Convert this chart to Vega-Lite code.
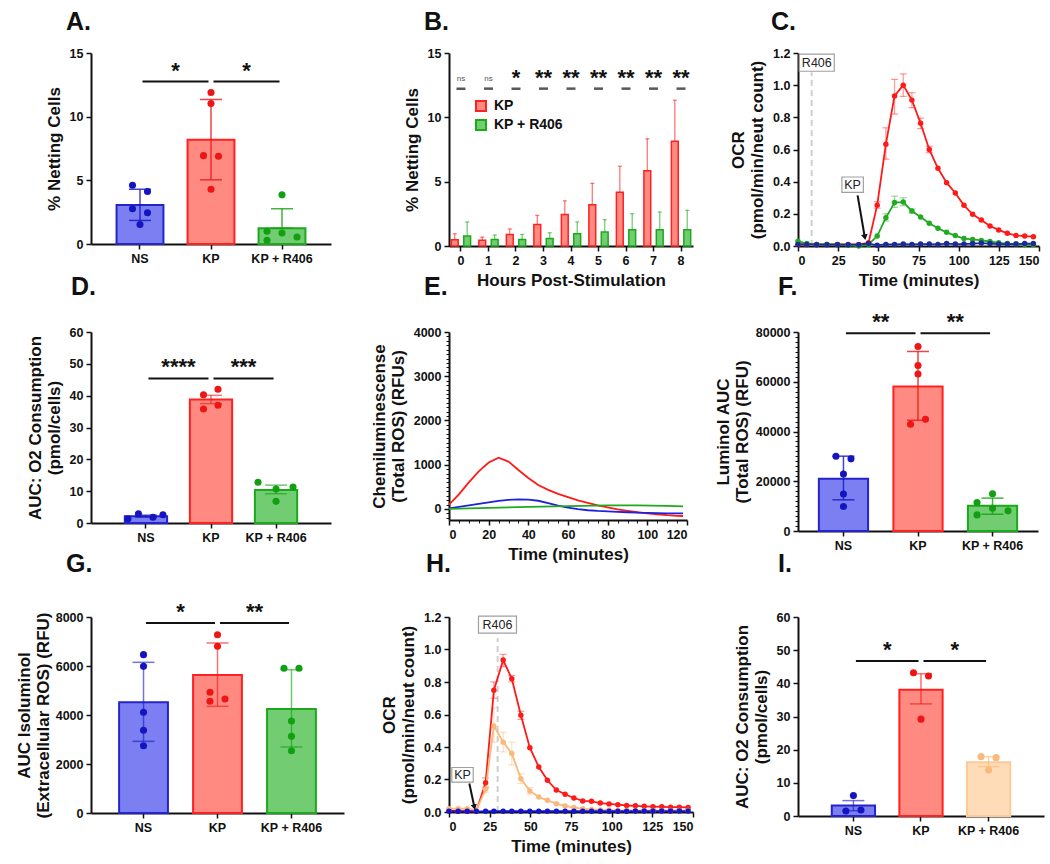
{
"$schema": "https://vega.github.io/schema/vega-lite/v6.json",
"background": "white",
"padding": {"left": 15, "top": 10, "right": 2, "bottom": 2},
"columns": 3,
"bounds": "flush",
"spacing": {"row": 86, "column": 105},
"resolve": {"scale": {"color": "independent", "fill": "independent", "stroke": "independent", "xOffset": "independent", "x": "independent", "y": "independent"}},
"datasets": {
"A_bar": [{"g":"NS","m":3.06,"lo":1.85,"hi":4.3},{"g":"KP","m":8.19,"lo":5.04,"hi":11.35},{"g":"KP + R406","m":1.24,"lo":1.24,"hi":2.77}],
"A_pts": [{"g":"NS","v":4.62,"p":"l"},{"g":"NS","v":4.12,"p":"r"},{"g":"NS","v":2.77,"p":"l"},{"g":"NS","v":2.46,"p":"r"},{"g":"NS","v":1.53,"p":"c"},{"g":"KP","v":11.9,"p":"c"},{"g":"KP","v":11.04,"p":"c"},{"g":"KP","v":6.94,"p":"l"},{"g":"KP","v":6.89,"p":"r"},{"g":"KP","v":4.3,"p":"c"},{"g":"KP + R406","v":3.86,"p":"c"},{"g":"KP + R406","v":1.0,"p":"ll"},{"g":"KP + R406","v":0.87,"p":"c"},{"g":"KP + R406","v":0.29,"p":"ll"},{"g":"KP + R406","v":0.55,"p":"rr"}],
"A_sig": [{"from":"NS","to":"KP","y":12.76,"label":"*"},{"from":"KP","to":"KP + R406","y":12.76,"label":"*"}],
"D_bar": [{"g":"NS","m":2.15,"lo":1.8,"hi":2.5},{"g":"KP","m":38.8,"lo":37.5,"hi":40.1},{"g":"KP +  R406","m":10.4,"lo":9.2,"hi":11.9}],
"D_pts": [{"g":"NS","v":1.3,"p":"ll"},{"g":"NS","v":2.9,"p":"l"},{"g":"NS","v":1.8,"p":"r"},{"g":"NS","v":2.6,"p":"rr"},{"g":"KP","v":40.3,"p":"l"},{"g":"KP","v":42.0,"p":"r"},{"g":"KP","v":35.8,"p":"l"},{"g":"KP","v":37.0,"p":"r"},{"g":"KP +  R406","v":12.8,"p":"ll"},{"g":"KP +  R406","v":10.7,"p":"c"},{"g":"KP +  R406","v":6.8,"p":"c"},{"g":"KP +  R406","v":11.3,"p":"rr"}],
"D_sig": [{"from":"NS","to":"KP","y":45.4,"label":"****"},{"from":"KP","to":"KP +  R406","y":45.4,"label":"***"}],
"F_bar": [{"g":"NS","m":21040,"lo":12540,"hi":30080},{"g":"KP","m":58140,"lo":44510,"hi":72170},{"g":"KP + R406","m":10117,"lo":6745,"hi":13220}],
"F_pts": [{"g":"NS","v":30080,"p":"l"},{"g":"NS","v":29000,"p":"r"},{"g":"NS","v":22930,"p":"c"},{"g":"NS","v":14840,"p":"c"},{"g":"NS","v":9850,"p":"c"},{"g":"KP","v":74200,"p":"c"},{"g":"KP","v":66500,"p":"c"},{"g":"KP","v":63130,"p":"c"},{"g":"KP","v":42900,"p":"l"},{"g":"KP","v":44920,"p":"r"},{"g":"KP + R406","v":14970,"p":"c"},{"g":"KP + R406","v":11470,"p":"ll"},{"g":"KP + R406","v":9180,"p":"c"},{"g":"KP + R406","v":8100,"p":"rr"},{"g":"KP + R406","v":6475,"p":"ll"}],
"F_sig": [{"from":"NS","to":"KP","y":79480,"label":"**"},{"from":"KP","to":"KP + R406","y":79480,"label":"**"}],
"G_bar": [{"g":"NS","m":4517,"lo":2925,"hi":6150},{"g":"KP","m":5633,"lo":4354,"hi":6939},{"g":"KP + R406","m":4245,"lo":2694,"hi":5850}],
"G_pts": [{"g":"NS","v":6463,"p":"c"},{"g":"NS","v":5986,"p":"c"},{"g":"NS","v":4109,"p":"c"},{"g":"NS","v":3374,"p":"c"},{"g":"NS","v":2748,"p":"c"},{"g":"KP","v":7279,"p":"c"},{"g":"KP","v":6803,"p":"c"},{"g":"KP","v":4925,"p":"l"},{"g":"KP","v":4558,"p":"l"},{"g":"KP","v":4653,"p":"r"},{"g":"KP + R406","v":5905,"p":"l"},{"g":"KP + R406","v":5905,"p":"r"},{"g":"KP + R406","v":3755,"p":"c"},{"g":"KP + R406","v":3129,"p":"c"},{"g":"KP + R406","v":2544,"p":"c"}],
"G_sig": [{"from":"NS","to":"KP","y":7755,"label":"*"},{"from":"KP","to":"KP + R406","y":7755,"label":"**"}],
"I_bar": [{"g":"NS","m":3.13,"lo":1.6,"hi":4.64},{"g":"KP","m":38.1,"lo":33.8,"hi":42.9},{"g":"KP +  R406","m":16.2,"lo":14.9,"hi":17.9}],
"I_pts": [{"g":"NS","v":6.15,"p":"c"},{"g":"NS","v":1.51,"p":"l"},{"g":"NS","v":1.8,"p":"r"},{"g":"KP","v":43.2,"p":"l"},{"g":"KP","v":42.2,"p":"r"},{"g":"KP","v":29.2,"p":"c"},{"g":"KP +  R406","v":17.9,"p":"l"},{"g":"KP +  R406","v":17.6,"p":"r"},{"g":"KP +  R406","v":13.9,"p":"c"}],
"I_sig": [{"from":"NS","to":"KP","y":46.7,"label":"*"},{"from":"KP","to":"KP +  R406","y":46.7,"label":"*"}],
"B_bar": [{"h":0,"s":"KP","m":0.49,"hi":0.95},{"h":1,"s":"KP","m":0.44,"hi":0.69},{"h":2,"s":"KP","m":0.9,"hi":1.33},{"h":3,"s":"KP","m":1.67,"hi":2.38},{"h":4,"s":"KP","m":2.44,"hi":3.51},{"h":5,"s":"KP","m":3.21,"hi":4.87},{"h":6,"s":"KP","m":4.18,"hi":6.2},{"h":7,"s":"KP","m":5.85,"hi":8.33},{"h":8,"s":"KP","m":8.15,"hi":11.33},
{"h":0,"s":"KP +  R406","m":0.77,"hi":1.87},{"h":1,"s":"KP +  R406","m":0.51,"hi":0.85},{"h":2,"s":"KP +  R406","m":0.51,"hi":0.9},{"h":3,"s":"KP +  R406","m":0.59,"hi":1.03},{"h":4,"s":"KP +  R406","m":0.95,"hi":1.87},{"h":5,"s":"KP +  R406","m":1.08,"hi":2.05},{"h":6,"s":"KP +  R406","m":1.26,"hi":2.51},{"h":7,"s":"KP +  R406","m":1.26,"hi":2.64},{"h":8,"s":"KP +  R406","m":1.26,"hi":2.77}],
"B_sig": [{"h":0,"label":"ns"},{"h":1,"label":"ns"},{"h":2,"label":"*"},{"h":3,"label":"**"},{"h":4,"label":"**"},{"h":5,"label":"**"},{"h":6,"label":"**"},{"h":7,"label":"**"},{"h":8,"label":"**"}],
"C_ts": [
{"s":"KP","t":0,"v":0.01},{"s":"KP","t":5.5,"v":0.01},{"s":"KP","t":11.6,"v":0.01},{"s":"KP","t":18,"v":0.01},{"s":"KP","t":24.6,"v":0.01},{"s":"KP","t":31.2,"v":0.01},{"s":"KP","t":37.8,"v":0.01},{"s":"KP","t":43.9,"v":0.02},{"s":"KP","t":49.3,"v":0.254},{"s":"KP","t":54.7,"v":0.633},{"s":"KP","t":60.1,"v":0.933},{"s":"KP","t":65.5,"v":1.0},{"s":"KP","t":70.9,"v":0.907},{"s":"KP","t":76.3,"v":0.763},{"s":"KP","t":81.7,"v":0.6},{"s":"KP","t":87.1,"v":0.483},{"s":"KP","t":92.5,"v":0.394},{"s":"KP","t":97.9,"v":0.33},{"s":"KP","t":103.3,"v":0.253},{"s":"KP","t":108.7,"v":0.197},{"s":"KP","t":114.1,"v":0.162},{"s":"KP","t":119.5,"v":0.124},{"s":"KP","t":124.9,"v":0.1},{"s":"KP","t":130.3,"v":0.079},{"s":"KP","t":135.7,"v":0.066},{"s":"KP","t":141.1,"v":0.062},{"s":"KP","t":146.5,"v":0.058},
{"s":"KP + R406","t":0,"v":0.03},{"s":"KP + R406","t":5.5,"v":0.015},{"s":"KP + R406","t":11.6,"v":0.01},{"s":"KP + R406","t":18,"v":0.01},{"s":"KP + R406","t":24.6,"v":0.01},{"s":"KP + R406","t":31.2,"v":0.005},{"s":"KP + R406","t":37.8,"v":0.0},{"s":"KP + R406","t":43.9,"v":0.01},{"s":"KP + R406","t":49.3,"v":0.062},{"s":"KP + R406","t":54.7,"v":0.176},{"s":"KP + R406","t":60.1,"v":0.27},{"s":"KP + R406","t":65.5,"v":0.273},{"s":"KP + R406","t":70.9,"v":0.218},{"s":"KP + R406","t":76.3,"v":0.18},{"s":"KP + R406","t":81.7,"v":0.141},{"s":"KP + R406","t":87.1,"v":0.11},{"s":"KP + R406","t":92.5,"v":0.085},{"s":"KP + R406","t":97.9,"v":0.065},{"s":"KP + R406","t":103.3,"v":0.046},{"s":"KP + R406","t":108.7,"v":0.041},{"s":"KP + R406","t":114.1,"v":0.035},{"s":"KP + R406","t":119.5,"v":0.028},{"s":"KP + R406","t":124.9,"v":0.02},{"s":"KP + R406","t":130.3,"v":0.015},{"s":"KP + R406","t":135.7,"v":0.012},{"s":"KP + R406","t":141.1,"v":0.01},{"s":"KP + R406","t":146.5,"v":0.01},
{"s":"NS","t":0,"v":0.01},{"s":"NS","t":5.5,"v":0.01},{"s":"NS","t":11.6,"v":0.008},{"s":"NS","t":18,"v":0.008},{"s":"NS","t":24.6,"v":0.008},{"s":"NS","t":31.2,"v":0.008},{"s":"NS","t":37.8,"v":0.008},{"s":"NS","t":43.9,"v":0.015},{"s":"NS","t":49.3,"v":0.005},{"s":"NS","t":54.7,"v":0.01},{"s":"NS","t":60.1,"v":0.01},{"s":"NS","t":65.5,"v":0.012},{"s":"NS","t":70.9,"v":0.01},{"s":"NS","t":76.3,"v":0.012},{"s":"NS","t":81.7,"v":0.012},{"s":"NS","t":87.1,"v":0.01},{"s":"NS","t":92.5,"v":0.015},{"s":"NS","t":97.9,"v":0.012},{"s":"NS","t":103.3,"v":0.012},{"s":"NS","t":108.7,"v":0.015},{"s":"NS","t":114.1,"v":0.018},{"s":"NS","t":119.5,"v":0.015},{"s":"NS","t":124.9,"v":0.012},{"s":"NS","t":130.3,"v":0.012},{"s":"NS","t":135.7,"v":0.012},{"s":"NS","t":141.1,"v":0.015},{"s":"NS","t":146.5,"v":0.015}],
"C_err": [{"s":"KP","t":49.3,"lo":0.235,"hi":0.275},{"s":"KP","t":54.7,"lo":0.54,"hi":0.735},{"s":"KP","t":60.1,"lo":0.82,"hi":1.036},{"s":"KP","t":65.5,"lo":0.93,"hi":1.07},{"s":"KP","t":70.9,"lo":0.86,"hi":0.953},{"s":"KP","t":76.3,"lo":0.73,"hi":0.795},{"s":"KP","t":81.7,"lo":0.58,"hi":0.62},{"s":"KP + R406","t":54.7,"lo":0.155,"hi":0.2},{"s":"KP + R406","t":60.1,"lo":0.24,"hi":0.31},{"s":"KP + R406","t":65.5,"lo":0.25,"hi":0.3},{"s":"KP + R406","t":70.9,"lo":0.205,"hi":0.23}],
"H_ts": [
{"s":"KP","t":0,"v":0.01},{"s":"KP","t":5.6,"v":0.005},{"s":"KP","t":11.2,"v":0.005},{"s":"KP","t":16.8,"v":0.005},{"s":"KP","t":22.5,"v":0.18},{"s":"KP","t":27.6,"v":0.75},{"s":"KP","t":33.3,"v":0.935},{"s":"KP","t":38.6,"v":0.82},{"s":"KP","t":44.2,"v":0.595},{"s":"KP","t":49.7,"v":0.396},{"s":"KP","t":55.2,"v":0.277},{"s":"KP","t":60.5,"v":0.195},{"s":"KP","t":66,"v":0.135},{"s":"KP","t":71.4,"v":0.109},{"s":"KP","t":76.8,"v":0.086},{"s":"KP","t":82.2,"v":0.068},{"s":"KP","t":87.6,"v":0.066},{"s":"KP","t":93,"v":0.055},{"s":"KP","t":98.4,"v":0.05},{"s":"KP","t":103.8,"v":0.045},{"s":"KP","t":109.2,"v":0.04},{"s":"KP","t":114.6,"v":0.038},{"s":"KP","t":120,"v":0.035},{"s":"KP","t":125.4,"v":0.033},{"s":"KP","t":130.8,"v":0.032},{"s":"KP","t":136.2,"v":0.03},{"s":"KP","t":141.6,"v":0.03},{"s":"KP","t":147,"v":0.028},
{"s":"KP + R406","t":0,"v":0.02},{"s":"KP + R406","t":5.6,"v":0.02},{"s":"KP + R406","t":11.2,"v":0.02},{"s":"KP + R406","t":16.8,"v":0.01},{"s":"KP + R406","t":22.5,"v":0.14},{"s":"KP + R406","t":27.6,"v":0.53},{"s":"KP + R406","t":33.3,"v":0.43},{"s":"KP + R406","t":38.6,"v":0.36},{"s":"KP + R406","t":44.2,"v":0.205},{"s":"KP + R406","t":49.7,"v":0.13},{"s":"KP + R406","t":55.2,"v":0.092},{"s":"KP + R406","t":60.5,"v":0.072},{"s":"KP + R406","t":66,"v":0.051},{"s":"KP + R406","t":71.4,"v":0.037},{"s":"KP + R406","t":76.8,"v":0.027},{"s":"KP + R406","t":82.2,"v":0.02},{"s":"KP + R406","t":87.6,"v":0.016},{"s":"KP + R406","t":93,"v":0.013},{"s":"KP + R406","t":98.4,"v":0.012},{"s":"KP + R406","t":103.8,"v":0.01},{"s":"KP + R406","t":109.2,"v":0.01},{"s":"KP + R406","t":114.6,"v":0.01},{"s":"KP + R406","t":120,"v":0.01},{"s":"KP + R406","t":125.4,"v":0.01},{"s":"KP + R406","t":130.8,"v":0.01},{"s":"KP + R406","t":136.2,"v":0.01},{"s":"KP + R406","t":141.6,"v":0.01},{"s":"KP + R406","t":147,"v":0.01},
{"s":"NS","t":0,"v":0.004},{"s":"NS","t":5.6,"v":0.004},{"s":"NS","t":11.2,"v":0.004},{"s":"NS","t":16.8,"v":0.004},{"s":"NS","t":22.5,"v":0.004},{"s":"NS","t":27.6,"v":0.005},{"s":"NS","t":33.3,"v":0.005},{"s":"NS","t":38.6,"v":0.005},{"s":"NS","t":44.2,"v":0.005},{"s":"NS","t":49.7,"v":0.005},{"s":"NS","t":55.2,"v":0.005},{"s":"NS","t":60.5,"v":0.005},{"s":"NS","t":66,"v":0.005},{"s":"NS","t":71.4,"v":0.005},{"s":"NS","t":76.8,"v":0.005},{"s":"NS","t":82.2,"v":0.005},{"s":"NS","t":87.6,"v":0.005},{"s":"NS","t":93,"v":0.005},{"s":"NS","t":98.4,"v":0.005},{"s":"NS","t":103.8,"v":0.005},{"s":"NS","t":109.2,"v":0.005},{"s":"NS","t":114.6,"v":0.006},{"s":"NS","t":120,"v":0.006},{"s":"NS","t":125.4,"v":0.006},{"s":"NS","t":130.8,"v":0.006},{"s":"NS","t":136.2,"v":0.006},{"s":"NS","t":141.6,"v":0.006},{"s":"NS","t":147,"v":0.006}],
"H_err": [{"s":"KP","t":22.5,"lo":0.15,"hi":0.21},{"s":"KP","t":27.6,"lo":0.7,"hi":0.8},{"s":"KP","t":33.3,"lo":0.895,"hi":0.97},{"s":"KP","t":38.6,"lo":0.8,"hi":0.84},{"s":"KP","t":44.2,"lo":0.57,"hi":0.62},{"s":"KP + R406","t":22.5,"lo":0.12,"hi":0.16},{"s":"KP + R406","t":27.6,"lo":0.43,"hi":0.64},{"s":"KP + R406","t":33.3,"lo":0.37,"hi":0.49},{"s":"KP + R406","t":38.6,"lo":0.29,"hi":0.43},{"s":"KP + R406","t":44.2,"lo":0.175,"hi":0.235},{"s":"KP + R406","t":49.7,"lo":0.11,"hi":0.15}],
"E_ts": [
{"s":"KP","t":0,"v":100},{"s":"KP","t":5,"v":330},{"s":"KP","t":10,"v":600},{"s":"KP","t":15,"v":850},{"s":"KP","t":20,"v":1050},{"s":"KP","t":25,"v":1160},{"s":"KP","t":30,"v":1070},{"s":"KP","t":35,"v":880},{"s":"KP","t":40,"v":700},{"s":"KP","t":45,"v":540},{"s":"KP","t":50,"v":430},{"s":"KP","t":55,"v":340},{"s":"KP","t":60,"v":265},{"s":"KP","t":65,"v":195},{"s":"KP","t":70,"v":135},{"s":"KP","t":75,"v":80},{"s":"KP","t":80,"v":35},{"s":"KP","t":85,"v":-10},{"s":"KP","t":90,"v":-45},{"s":"KP","t":95,"v":-75},{"s":"KP","t":100,"v":-100},{"s":"KP","t":105,"v":-120},{"s":"KP","t":110,"v":-140},{"s":"KP","t":115,"v":-155},{"s":"KP","t":118,"v":-160},
{"s":"NS","t":0,"v":15},{"s":"NS","t":5,"v":45},{"s":"NS","t":10,"v":80},{"s":"NS","t":15,"v":115},{"s":"NS","t":20,"v":150},{"s":"NS","t":25,"v":180},{"s":"NS","t":30,"v":205},{"s":"NS","t":35,"v":215},{"s":"NS","t":40,"v":212},{"s":"NS","t":45,"v":185},{"s":"NS","t":50,"v":130},{"s":"NS","t":55,"v":75},{"s":"NS","t":60,"v":30},{"s":"NS","t":65,"v":-5},{"s":"NS","t":70,"v":-30},{"s":"NS","t":75,"v":-45},{"s":"NS","t":80,"v":-55},{"s":"NS","t":85,"v":-65},{"s":"NS","t":90,"v":-75},{"s":"NS","t":95,"v":-85},{"s":"NS","t":100,"v":-90},{"s":"NS","t":110,"v":-100},{"s":"NS","t":118,"v":-100},
{"s":"KP + R406","t":0,"v":0},{"s":"KP + R406","t":20,"v":25},{"s":"KP + R406","t":40,"v":45},{"s":"KP + R406","t":60,"v":65},{"s":"KP + R406","t":80,"v":80},{"s":"KP + R406","t":95,"v":80},{"s":"KP + R406","t":110,"v":70},{"s":"KP + R406","t":118,"v":60}]
},
"concat": [
{
"title": {"text": "A.", "dx": -25},
"width": 240, "height": 191,
"layer": [
{"data": {"name": "A_bar"}, "mark": {"type": "bar", "strokeWidth": 2},
 "encoding": {
  "x": {"field": "g", "type": "nominal", "scale": {"domain": ["NS","KP","KP + R406"], "paddingInner": 0.34, "paddingOuter": 0.36}, "axis": {"title": null, "labelAngle": 0}},
  "y": {"field": "m", "type": "quantitative", "scale": {"domain": [0, 15], "nice": false}, "axis": {"title": "% Netting Cells", "values": [0,5,10,15], "tickCount": 4}},
  "fill": {"field": "g", "type": "nominal", "scale": {"domain": ["NS","KP","KP + R406"], "range": ["#7b7ff2","#ff8a82","#72cc72"]}, "legend": null},
  "stroke": {"field": "g", "type": "nominal", "scale": {"domain": ["NS","KP","KP + R406"], "range": ["#2424cc","#ff2020","#1aaa1a"]}, "legend": null}}},
{"data": {"name": "A_bar"}, "mark": {"type": "rule", "strokeWidth": 1.5, "opacity": 0.8},
 "encoding": {"x": {"field": "g", "type": "nominal"}, "y": {"field": "lo", "type": "quantitative"}, "y2": {"field": "hi"},
  "color": {"field": "g", "type": "nominal", "scale": {"domain": ["NS","KP","KP + R406"], "range": ["#1515c0","#ee1515","#12a012"]}, "legend": null}}},
{"data": {"name": "A_bar"}, "mark": {"type": "tick", "thickness": 1.5, "size": 22, "opacity": 0.8},
 "encoding": {"x": {"field": "g", "type": "nominal"}, "y": {"field": "hi", "type": "quantitative"}, "color": {"field": "g", "type": "nominal", "legend": null}}},
{"data": {"name": "A_bar"}, "mark": {"type": "tick", "thickness": 1.5, "size": 22, "opacity": 0.8},
 "encoding": {"x": {"field": "g", "type": "nominal"}, "y": {"field": "lo", "type": "quantitative"}, "color": {"field": "g", "type": "nominal", "legend": null}}},
{"data": {"name": "A_pts"}, "mark": {"type": "circle", "size": 50, "opacity": 1, "xOffset": {"expr": "datum.p == 'll' ? -15 : datum.p == 'l' ? -7.5 : datum.p == 'r' ? 7.5 : datum.p == 'rr' ? 15 : 0"}},
 "encoding": {"x": {"field": "g", "type": "nominal"}, "y": {"field": "v", "type": "quantitative"}, "color": {"field": "g", "type": "nominal", "legend": null}}},
{"data": {"name": "A_sig"}, "mark": {"type": "rule", "strokeWidth": 2, "color": "#111", "xOffset": 2.5, "x2Offset": -2.5},
 "encoding": {"x": {"field": "from", "type": "nominal"}, "x2": {"field": "to"}, "y": {"field": "y", "type": "quantitative"}}},
{"data": {"name": "A_sig"}, "mark": {"type": "text", "fontSize": 22, "fontWeight": "bold", "dx": 35.5, "dy": -4, "baseline": "alphabetic", "color": "#111"},
 "encoding": {"x": {"field": "from", "type": "nominal"}, "y": {"field": "y", "type": "quantitative"}, "text": {"field": "label"}}}
]
},
{
"title": {"text": "B.", "dx": -25},
"width": 244, "height": 193,
"layer": [
{"data": {"name": "B_bar"}, "mark": {"type": "bar", "strokeWidth": 1.5},
 "encoding": {
  "x": {"field": "h", "type": "ordinal", "scale": {"paddingInner": 0.3, "paddingOuter": 0.085}, "axis": {"title": "Hours Post-Stimulation", "labelAngle": 0}},
  "xOffset": {"field": "s", "type": "nominal", "scale": {"domain": ["KP","KP +  R406"], "paddingInner": 0.45}},
  "y": {"field": "m", "type": "quantitative", "scale": {"domain": [0, 15], "nice": false}, "axis": {"title": "% Netting Cells", "values": [0,5,10,15], "tickCount": 4}},
  "fill": {"field": "s", "type": "nominal", "scale": {"domain": ["KP","KP +  R406"], "range": ["#ff8a82","#72cc72"]}, "legend": {"orient": "none", "legendX": 25, "legendY": 46, "title": null, "symbolType": "square", "symbolSize": 100, "symbolStrokeWidth": 2, "labelFontSize": 14, "labelFontWeight": "bold", "labelColor": "#111", "rowPadding": 1, "labelOffset": 6}},
  "stroke": {"field": "s", "type": "nominal", "scale": {"domain": ["KP","KP +  R406"], "range": ["#ff2020","#1aaa1a"]}, "legend": {"orient": "none", "legendX": 25, "legendY": 46, "title": null, "symbolType": "square", "symbolSize": 100, "symbolStrokeWidth": 2, "labelFontSize": 14, "labelFontWeight": "bold", "labelColor": "#111", "rowPadding": 1, "labelOffset": 6}}}},
{"data": {"name": "B_bar"}, "mark": {"type": "rule", "strokeWidth": 1.3, "opacity": 0.6},
 "encoding": {"x": {"field": "h", "type": "ordinal"}, "xOffset": {"field": "s", "type": "nominal"}, "y": {"field": "m", "type": "quantitative"}, "y2": {"field": "hi"},
  "color": {"field": "s", "type": "nominal", "scale": {"domain": ["KP","KP +  R406"], "range": ["#ff2020","#1aaa1a"]}, "legend": null}}},
{"data": {"name": "B_bar"}, "mark": {"type": "tick", "thickness": 1.3, "size": 4, "opacity": 0.6},
 "encoding": {"x": {"field": "h", "type": "ordinal"}, "xOffset": {"field": "s", "type": "nominal"}, "y": {"field": "hi", "type": "quantitative"}, "color": {"field": "s", "type": "nominal", "legend": null}}},
{"data": {"name": "B_sig"}, "mark": {"type": "tick", "thickness": 2.5, "size": 9, "color": "#111"},
 "encoding": {"x": {"field": "h", "type": "ordinal"}, "y": {"datum": 12.23}}},
{"data": {"name": "B_sig"}, "transform": [{"filter": "datum.label != 'ns'"}], "mark": {"type": "text", "fontSize": 22, "fontWeight": "bold", "dy": -4, "baseline": "alphabetic", "color": "#111"},
 "encoding": {"x": {"field": "h", "type": "ordinal"}, "y": {"datum": 12.23}, "text": {"field": "label"}}},
{"data": {"name": "B_sig"}, "transform": [{"filter": "datum.label == 'ns'"}], "mark": {"type": "text", "fontSize": 8, "dy": -10, "baseline": "middle", "color": "#555"},
 "encoding": {"x": {"field": "h", "type": "ordinal"}, "y": {"datum": 12.23}, "text": {"field": "label"}}}
]
},
{
"title": {"text": "C.", "dx": -27},
"width": 241, "height": 193,
"layer": [
{"data": {"values": [{}]}, "mark": {"type": "rule", "strokeDash": [6,4], "strokeWidth": 2, "color": "#cfcfcf"},
 "encoding": {"x": {"datum": 8.5}, "y": {"datum": 0}, "y2": {"datum": 1.08}}},
{"data": {"name": "C_err"}, "mark": {"type": "rule", "strokeWidth": 1.2, "opacity": 0.45},
 "encoding": {"x": {"field": "t", "type": "quantitative"}, "y": {"field": "lo", "type": "quantitative"}, "y2": {"field": "hi"}, "color": {"field": "s", "type": "nominal", "legend": null}}},
{"data": {"name": "C_err"}, "mark": {"type": "tick", "orient": "horizontal", "size": 7, "thickness": 1.2, "opacity": 0.45},
 "encoding": {"x": {"field": "t", "type": "quantitative"}, "y": {"field": "hi", "type": "quantitative"}, "color": {"field": "s", "type": "nominal", "legend": null}}},
{"data": {"name": "C_err"}, "mark": {"type": "tick", "orient": "horizontal", "size": 7, "thickness": 1.2, "opacity": 0.45},
 "encoding": {"x": {"field": "t", "type": "quantitative"}, "y": {"field": "lo", "type": "quantitative"}, "color": {"field": "s", "type": "nominal", "legend": null}}},
{"data": {"name": "C_ts"}, "mark": {"type": "line", "strokeWidth": 1.8},
 "encoding": {
  "x": {"field": "t", "type": "quantitative", "scale": {"domain": [0, 150], "nice": false}, "axis": {"title": "Time (minutes)", "values": [0,25,50,75,100,125,150], "tickCount": 7}},
  "y": {"field": "v", "type": "quantitative", "scale": {"domain": [0, 1.2], "nice": false}, "axis": {"title": ["OCR","(pmol/min/neut count)"], "values": [0,0.2,0.4,0.6,0.8,1.0,1.2], "tickCount": 7, "format": ".1f"}},
  "color": {"field": "s", "type": "nominal", "scale": {"domain": ["KP","KP + R406","NS"], "range": ["#ff1a1a","#22aa22","#1a2a9a"]}, "legend": null}}},
{"data": {"name": "C_ts"}, "mark": {"type": "circle", "size": 30, "opacity": 1},
 "encoding": {"x": {"field": "t", "type": "quantitative"}, "y": {"field": "v", "type": "quantitative"}, "color": {"field": "s", "type": "nominal", "legend": null}}},
{"data": {"values": [{}]}, "mark": {"type": "point", "shape": "M-1,-0.49L1,-0.49L1,0.49L-1,0.49Z", "size": 1225, "filled": true, "fill": "white", "stroke": "#a0a0a0", "strokeWidth": 1.2, "opacity": 1},
 "encoding": {"x": {"datum": 11.7}, "y": {"datum": 1.14}}},
{"data": {"values": [{}]}, "mark": {"type": "text", "text": "R406", "fontSize": 12.5, "color": "#222", "baseline": "middle"},
 "encoding": {"x": {"datum": 11.7}, "y": {"datum": 1.14}}},
{"data": {"values": [{}]}, "mark": {"type": "point", "shape": "M-1,-0.72L1,-0.72L1,0.72L-1,0.72Z", "size": 460, "filled": true, "fill": "white", "stroke": "#a0a0a0", "strokeWidth": 1.2, "opacity": 1},
 "encoding": {"x": {"datum": 34.0}, "y": {"datum": 0.381}}},
{"data": {"values": [{}]}, "mark": {"type": "text", "text": "KP", "fontSize": 12.5, "color": "#222", "baseline": "middle"},
 "encoding": {"x": {"datum": 34.0}, "y": {"datum": 0.381}}},
{"data": {"values": [{}]}, "mark": {"type": "rule", "strokeWidth": 2, "color": "#111"},
 "encoding": {"x": {"datum": 37.1}, "y": {"datum": 0.315}, "x2": {"datum": 41.3}, "y2": {"datum": 0.07}}},
{"data": {"values": [{}]}, "mark": {"type": "point", "shape": "triangle-down", "filled": true, "color": "#111", "size": 45, "angle": 350, "opacity": 1},
 "encoding": {"x": {"datum": 41.6}, "y": {"datum": 0.055}}}
]
},
{
"title": {"text": "D.", "dx": -20, "offset": 26},
"width": 240, "height": 191,
"layer": [
{"data": {"name": "D_bar"}, "mark": {"type": "bar", "strokeWidth": 2},
 "encoding": {
  "x": {"field": "g", "type": "nominal", "scale": {"domain": ["NS","KP","KP +  R406"], "paddingInner": 0.35, "paddingOuter": 0.52}, "axis": {"title": null, "labelAngle": 0}},
  "y": {"field": "m", "type": "quantitative", "scale": {"domain": [0, 60], "nice": false}, "axis": {"title": ["AUC: O2 Consumption","(pmol/cells)"], "values": [0,10,20,30,40,50,60], "tickCount": 7}},
  "fill": {"field": "g", "type": "nominal", "scale": {"domain": ["NS","KP","KP +  R406"], "range": ["#7b7ff2","#ff8a82","#72cc72"]}, "legend": null},
  "stroke": {"field": "g", "type": "nominal", "scale": {"domain": ["NS","KP","KP +  R406"], "range": ["#2424cc","#ff2020","#1aaa1a"]}, "legend": null}}},
{"data": {"name": "D_bar"}, "mark": {"type": "rule", "strokeWidth": 1.5, "opacity": 0.6},
 "encoding": {"x": {"field": "g", "type": "nominal"}, "y": {"field": "lo", "type": "quantitative"}, "y2": {"field": "hi"},
  "color": {"field": "g", "type": "nominal", "scale": {"domain": ["NS","KP","KP +  R406"], "range": ["#1515c0","#ee1515","#12a012"]}, "legend": null}}},
{"data": {"name": "D_bar"}, "mark": {"type": "tick", "thickness": 1.5, "size": 22, "opacity": 0.6},
 "encoding": {"x": {"field": "g", "type": "nominal"}, "y": {"field": "hi", "type": "quantitative"}, "color": {"field": "g", "type": "nominal", "legend": null}}},
{"data": {"name": "D_bar"}, "mark": {"type": "tick", "thickness": 1.5, "size": 22, "opacity": 0.6},
 "encoding": {"x": {"field": "g", "type": "nominal"}, "y": {"field": "lo", "type": "quantitative"}, "color": {"field": "g", "type": "nominal", "legend": null}}},
{"data": {"name": "D_pts"}, "mark": {"type": "circle", "size": 50, "opacity": 1, "xOffset": {"expr": "datum.p == 'll' ? -18 : datum.p == 'l' ? -7.5 : datum.p == 'r' ? 7 : datum.p == 'rr' ? 17 : 0"}},
 "encoding": {"x": {"field": "g", "type": "nominal"}, "y": {"field": "v", "type": "quantitative"}, "color": {"field": "g", "type": "nominal", "legend": null}}},
{"data": {"name": "D_sig"}, "mark": {"type": "rule", "strokeWidth": 2, "color": "#111", "xOffset": 2.5, "x2Offset": -2.5},
 "encoding": {"x": {"field": "from", "type": "nominal"}, "x2": {"field": "to"}, "y": {"field": "y", "type": "quantitative"}}},
{"data": {"name": "D_sig"}, "mark": {"type": "text", "fontSize": 22, "fontWeight": "bold", "dx": 32.5, "dy": -4, "baseline": "alphabetic", "color": "#111"},
 "encoding": {"x": {"field": "from", "type": "nominal"}, "y": {"field": "y", "type": "quantitative"}, "text": {"field": "label"}}}
]
},
{
"title": {"text": "E.", "dx": -25, "offset": 26},
"width": 238, "height": 188,
"resolve": {"axis": {"x": "independent", "y": "independent"}},
"layer": [
{"data": {"name": "E_ts"}, "mark": {"type": "line", "strokeWidth": 1.8},
 "encoding": {
  "x": {"field": "t", "type": "quantitative", "scale": {"domain": [0, 120], "nice": false}, "axis": {"title": "Time (minutes)", "values": [0,20,40,60,80,100,120], "tickCount": 7}},
  "y": {"field": "v", "type": "quantitative", "scale": {"domain": [-250, 4000], "nice": false, "zero": false}, "axis": {"title": ["Chemiluminescense","(Total  ROS) (RFUs)"], "values": [0,1000,2000,3000,4000], "tickCount": 5, "format": "d"}},
  "color": {"field": "s", "type": "nominal", "scale": {"domain": ["KP","NS","KP + R406"], "range": ["#ff1a1a","#2020dd","#20a820"]}, "legend": null}}},
{"data": {"name": "E_ts"}, "mark": {"type": "line", "opacity": 0},
 "encoding": {
  "x": {"field": "t", "type": "quantitative", "axis": {"orient": "bottom", "title": null, "labels": false, "domain": false, "tickSize": 3, "tickWidth": 1, "values": [5,10,15,25,30,35,45,50,55,65,70,75,85,90,95,105,110,115]}},
  "y": {"field": "v", "type": "quantitative", "axis": {"orient": "left", "title": null, "labels": false, "domain": false, "tickSize": 3, "tickWidth": 1, "values": [-200,-100,100,200,300,400,500,600,700,800,900,1100,1200,1300,1400,1500,1600,1700,1800,1900,2100,2200,2300,2400,2500,2600,2700,2800,2900,3100,3200,3300,3400,3500,3600,3700,3800,3900]}},
  "detail": {"field": "s", "type": "nominal"}}}
]
},
{
"title": {"text": "F.", "dx": -20, "offset": 11},
"width": 240, "height": 199,
"resolve": {"axis": {"y": "independent"}},
"layer": [
{"data": {"name": "F_bar"}, "mark": {"type": "bar", "strokeWidth": 2},
 "encoding": {
  "x": {"field": "g", "type": "nominal", "scale": {"domain": ["NS","KP","KP + R406"], "paddingInner": 0.34, "paddingOuter": 0.28}, "axis": {"title": null, "labelAngle": 0}},
  "y": {"field": "m", "type": "quantitative", "scale": {"domain": [0, 80000], "nice": false}, "axis": {"title": ["Luminol AUC","(Total  ROS) (RFU)"], "values": [0,20000,40000,60000,80000], "tickCount": 5, "format": "d", "titlePadding": 4}},
  "fill": {"field": "g", "type": "nominal", "scale": {"domain": ["NS","KP","KP + R406"], "range": ["#7b7ff2","#ff8a82","#72cc72"]}, "legend": null},
  "stroke": {"field": "g", "type": "nominal", "scale": {"domain": ["NS","KP","KP + R406"], "range": ["#2424cc","#ff2020","#1aaa1a"]}, "legend": null}}},
{"data": {"name": "F_bar"}, "mark": {"type": "rule", "strokeWidth": 1.5, "opacity": 0.8},
 "encoding": {"x": {"field": "g", "type": "nominal"}, "y": {"field": "lo", "type": "quantitative", "axis": {"orient": "left", "title": null, "labels": false, "domain": false, "tickSize": 3, "tickWidth": 1, "values": [2000,4000,6000,8000,10000,12000,14000,16000,18000,22000,24000,26000,28000,30000,32000,34000,36000,38000,42000,44000,46000,48000,50000,52000,54000,56000,58000,62000,64000,66000,68000,70000,72000,74000,76000,78000]}}, "y2": {"field": "hi"},
  "color": {"field": "g", "type": "nominal", "scale": {"domain": ["NS","KP","KP + R406"], "range": ["#1515c0","#ee1515","#12a012"]}, "legend": null}}},
{"data": {"name": "F_bar"}, "mark": {"type": "tick", "thickness": 1.5, "size": 22, "opacity": 0.8},
 "encoding": {"x": {"field": "g", "type": "nominal"}, "y": {"field": "hi", "type": "quantitative", "axis": null}, "color": {"field": "g", "type": "nominal", "legend": null}}},
{"data": {"name": "F_bar"}, "mark": {"type": "tick", "thickness": 1.5, "size": 22, "opacity": 0.8},
 "encoding": {"x": {"field": "g", "type": "nominal"}, "y": {"field": "lo", "type": "quantitative", "axis": null}, "color": {"field": "g", "type": "nominal", "legend": null}}},
{"data": {"name": "F_pts"}, "mark": {"type": "circle", "size": 50, "opacity": 1, "xOffset": {"expr": "datum.p == 'll' ? -15.5 : datum.p == 'l' ? -7.5 : datum.p == 'r' ? 7.5 : datum.p == 'rr' ? 15.5 : 0"}},
 "encoding": {"x": {"field": "g", "type": "nominal"}, "y": {"field": "v", "type": "quantitative", "axis": null}, "color": {"field": "g", "type": "nominal", "legend": null}}},
{"data": {"name": "F_sig"}, "mark": {"type": "rule", "strokeWidth": 2, "color": "#111", "xOffset": 2.5, "x2Offset": -2.5},
 "encoding": {"x": {"field": "from", "type": "nominal"}, "x2": {"field": "to"}, "y": {"field": "y", "type": "quantitative", "axis": null}}},
{"data": {"name": "F_sig"}, "mark": {"type": "text", "fontSize": 22, "fontWeight": "bold", "dx": 37.25, "dy": -4, "baseline": "alphabetic", "color": "#111"},
 "encoding": {"x": {"field": "from", "type": "nominal"}, "y": {"field": "y", "type": "quantitative", "axis": null}, "text": {"field": "label"}}}
]
},
{
"title": {"text": "G.", "dx": -25, "offset": 24},
"width": 253, "height": 196,
"layer": [
{"data": {"name": "G_bar"}, "mark": {"type": "bar", "strokeWidth": 2},
 "encoding": {
  "x": {"field": "g", "type": "nominal", "scale": {"domain": ["NS","KP","KP + R406"], "paddingInner": 0.34, "paddingOuter": 0.38}, "axis": {"title": null, "labelAngle": 0}},
  "y": {"field": "m", "type": "quantitative", "scale": {"domain": [0, 8000], "nice": false}, "axis": {"title": ["AUC Isoluminol","(Extracellular ROS) (RFU)"], "values": [0,2000,4000,6000,8000], "tickCount": 5, "format": "d", "titlePadding": 3}},
  "fill": {"field": "g", "type": "nominal", "scale": {"domain": ["NS","KP","KP + R406"], "range": ["#7b7ff2","#ff8a82","#72cc72"]}, "legend": null},
  "stroke": {"field": "g", "type": "nominal", "scale": {"domain": ["NS","KP","KP + R406"], "range": ["#2424cc","#ff2020","#1aaa1a"]}, "legend": null}}},
{"data": {"name": "G_bar"}, "mark": {"type": "rule", "strokeWidth": 1.5, "opacity": 0.6},
 "encoding": {"x": {"field": "g", "type": "nominal"}, "y": {"field": "lo", "type": "quantitative"}, "y2": {"field": "hi"},
  "color": {"field": "g", "type": "nominal", "scale": {"domain": ["NS","KP","KP + R406"], "range": ["#1515c0","#ee1515","#12a012"]}, "legend": null}}},
{"data": {"name": "G_bar"}, "mark": {"type": "tick", "thickness": 1.5, "size": 22, "opacity": 0.6},
 "encoding": {"x": {"field": "g", "type": "nominal"}, "y": {"field": "hi", "type": "quantitative"}, "color": {"field": "g", "type": "nominal", "legend": null}}},
{"data": {"name": "G_bar"}, "mark": {"type": "tick", "thickness": 1.5, "size": 22, "opacity": 0.6},
 "encoding": {"x": {"field": "g", "type": "nominal"}, "y": {"field": "lo", "type": "quantitative"}, "color": {"field": "g", "type": "nominal", "legend": null}}},
{"data": {"name": "G_pts"}, "mark": {"type": "circle", "size": 50, "opacity": 1, "xOffset": {"expr": "datum.p == 'll' ? -15 : datum.p == 'l' ? -7.5 : datum.p == 'r' ? 7.5 : datum.p == 'rr' ? 15 : 0"}},
 "encoding": {"x": {"field": "g", "type": "nominal"}, "y": {"field": "v", "type": "quantitative"}, "color": {"field": "g", "type": "nominal", "legend": null}}},
{"data": {"name": "G_sig"}, "mark": {"type": "rule", "strokeWidth": 2, "color": "#111", "xOffset": 2.5, "x2Offset": -2.5},
 "encoding": {"x": {"field": "from", "type": "nominal"}, "x2": {"field": "to"}, "y": {"field": "y", "type": "quantitative"}}},
{"data": {"name": "G_sig"}, "mark": {"type": "text", "fontSize": 22, "fontWeight": "bold", "dx": 37, "dy": -4, "baseline": "alphabetic", "color": "#111"},
 "encoding": {"x": {"field": "from", "type": "nominal"}, "y": {"field": "y", "type": "quantitative"}, "text": {"field": "label"}}}
]
},
{
"title": {"text": "H.", "dx": -23, "offset": 34},
"width": 244, "height": 195,
"layer": [
{"data": {"values": [{}]}, "mark": {"type": "rule", "strokeDash": [6,4], "strokeWidth": 2, "color": "#cfcfcf"},
 "encoding": {"x": {"datum": 29.9}, "y": {"datum": 0}, "y2": {"datum": 1.07}}},
{"data": {"name": "H_err"}, "mark": {"type": "rule", "strokeWidth": 1.2, "opacity": 0.45},
 "encoding": {"x": {"field": "t", "type": "quantitative"}, "y": {"field": "lo", "type": "quantitative"}, "y2": {"field": "hi"}, "color": {"field": "s", "type": "nominal", "legend": null}}},
{"data": {"name": "H_err"}, "mark": {"type": "tick", "orient": "horizontal", "size": 7, "thickness": 1.2, "opacity": 0.45},
 "encoding": {"x": {"field": "t", "type": "quantitative"}, "y": {"field": "hi", "type": "quantitative"}, "color": {"field": "s", "type": "nominal", "legend": null}}},
{"data": {"name": "H_err"}, "mark": {"type": "tick", "orient": "horizontal", "size": 7, "thickness": 1.2, "opacity": 0.45},
 "encoding": {"x": {"field": "t", "type": "quantitative"}, "y": {"field": "lo", "type": "quantitative"}, "color": {"field": "s", "type": "nominal", "legend": null}}},
{"data": {"name": "H_ts"}, "mark": {"type": "line", "strokeWidth": 1.8},
 "encoding": {
  "x": {"field": "t", "type": "quantitative", "scale": {"domain": [0, 150], "nice": false}, "axis": {"title": "Time (minutes)", "values": [0,25,50,75,100,125,150], "tickCount": 7}},
  "y": {"field": "v", "type": "quantitative", "scale": {"domain": [0, 1.2], "nice": false}, "axis": {"title": ["OCR","(pmol/min/neut count)"], "values": [0,0.2,0.4,0.6,0.8,1.0,1.2], "tickCount": 7, "format": ".1f"}},
  "color": {"field": "s", "type": "nominal", "scale": {"domain": ["KP","KP + R406","NS"], "range": ["#ff1a1a","#f9b97a","#1414c8"]}, "legend": null}}},
{"data": {"name": "H_ts"}, "mark": {"type": "circle", "size": 30, "opacity": 1},
 "encoding": {"x": {"field": "t", "type": "quantitative"}, "y": {"field": "v", "type": "quantitative"}, "color": {"field": "s", "type": "nominal", "legend": null}}},
{"data": {"values": [{}]}, "mark": {"type": "point", "shape": "M-1,-0.45L1,-0.45L1,0.45L-1,0.45Z", "size": 1444, "filled": true, "fill": "white", "stroke": "#a0a0a0", "strokeWidth": 1.2, "opacity": 1},
 "encoding": {"x": {"datum": 29.8}, "y": {"datum": 1.153}}},
{"data": {"values": [{}]}, "mark": {"type": "text", "text": "R406", "fontSize": 12.5, "color": "#222", "baseline": "middle"},
 "encoding": {"x": {"datum": 29.8}, "y": {"datum": 1.153}}},
{"data": {"values": [{}]}, "mark": {"type": "point", "shape": "M-1,-0.68L1,-0.68L1,0.68L-1,0.68Z", "size": 460, "filled": true, "fill": "white", "stroke": "#a0a0a0", "strokeWidth": 1.2, "opacity": 1},
 "encoding": {"x": {"datum": 8.3}, "y": {"datum": 0.229}}},
{"data": {"values": [{}]}, "mark": {"type": "text", "text": "KP", "fontSize": 12.5, "color": "#222", "baseline": "middle"},
 "encoding": {"x": {"datum": 8.3}, "y": {"datum": 0.229}}},
{"data": {"values": [{}]}, "mark": {"type": "rule", "strokeWidth": 2, "color": "#111"},
 "encoding": {"x": {"datum": 12.5}, "y": {"datum": 0.175}, "x2": {"datum": 15.4}, "y2": {"datum": 0.04}}},
{"data": {"values": [{}]}, "mark": {"type": "point", "shape": "triangle-down", "filled": true, "color": "#111", "size": 40, "angle": 347, "opacity": 1},
 "encoding": {"x": {"datum": 15.6}, "y": {"datum": 0.03}}}
]
},
{
"title": {"text": "I.", "dx": -20, "offset": 34},
"width": 246, "height": 199,
"layer": [
{"data": {"name": "I_bar"}, "mark": {"type": "bar", "strokeWidth": 2},
 "encoding": {
  "x": {"field": "g", "type": "nominal", "scale": {"domain": ["NS","KP","KP +  R406"], "paddingInner": 0.36, "paddingOuter": 0.5}, "axis": {"title": null, "labelAngle": 0}},
  "y": {"field": "m", "type": "quantitative", "scale": {"domain": [0, 60], "nice": false}, "axis": {"title": ["AUC: O2 Consumption","(pmol/cells)"], "values": [0,10,20,30,40,50,60], "tickCount": 7}},
  "fill": {"field": "g", "type": "nominal", "scale": {"domain": ["NS","KP","KP +  R406"], "range": ["#7b7ff2","#ff8a82","#ffdcb8"]}, "legend": null},
  "stroke": {"field": "g", "type": "nominal", "scale": {"domain": ["NS","KP","KP +  R406"], "range": ["#2424cc","#ff2020","#ffc997"]}, "legend": null}}},
{"data": {"name": "I_bar"}, "mark": {"type": "rule", "strokeWidth": 1.5, "opacity": 0.6},
 "encoding": {"x": {"field": "g", "type": "nominal"}, "y": {"field": "lo", "type": "quantitative"}, "y2": {"field": "hi"},
  "color": {"field": "g", "type": "nominal", "scale": {"domain": ["NS","KP","KP +  R406"], "range": ["#1515c0","#ee1515","#f9b97a"]}, "legend": null}}},
{"data": {"name": "I_bar"}, "mark": {"type": "tick", "thickness": 1.5, "size": 22, "opacity": 0.6},
 "encoding": {"x": {"field": "g", "type": "nominal"}, "y": {"field": "hi", "type": "quantitative"}, "color": {"field": "g", "type": "nominal", "legend": null}}},
{"data": {"name": "I_bar"}, "mark": {"type": "tick", "thickness": 1.5, "size": 22, "opacity": 0.6},
 "encoding": {"x": {"field": "g", "type": "nominal"}, "y": {"field": "lo", "type": "quantitative"}, "color": {"field": "g", "type": "nominal", "legend": null}}},
{"data": {"name": "I_pts"}, "mark": {"type": "circle", "size": 50, "opacity": 1, "xOffset": {"expr": "datum.p == 'll' ? -15 : datum.p == 'l' ? -7.5 : datum.p == 'r' ? 7.5 : datum.p == 'rr' ? 15 : 0"}},
 "encoding": {"x": {"field": "g", "type": "nominal"}, "y": {"field": "v", "type": "quantitative"}, "color": {"field": "g", "type": "nominal", "legend": null}}},
{"data": {"name": "I_sig"}, "mark": {"type": "rule", "strokeWidth": 2, "color": "#111", "xOffset": 2.5, "x2Offset": -2.5},
 "encoding": {"x": {"field": "from", "type": "nominal"}, "x2": {"field": "to"}, "y": {"field": "y", "type": "quantitative"}}},
{"data": {"name": "I_sig"}, "mark": {"type": "text", "fontSize": 22, "fontWeight": "bold", "dx": 33.75, "dy": -4, "baseline": "alphabetic", "color": "#111"},
 "encoding": {"x": {"field": "from", "type": "nominal"}, "y": {"field": "y", "type": "quantitative"}, "text": {"field": "label"}}}
]
}
],
"config": {
"font": "Liberation Sans",
"view": {"stroke": null},
"axis": {"grid": false, "labelOverlap": false, "domainColor": "#111", "domainWidth": 2, "tickColor": "#111", "tickWidth": 1.5, "tickSize": 5, "labelFont": "Liberation Sans", "labelFontSize": 12.5, "labelFontWeight": "bold", "labelColor": "#111", "titleFont": "Liberation Sans", "titleFontSize": 17, "titleFontWeight": "bold", "titleColor": "#111", "labelPadding": 3, "titlePadding": 6},
"title": {"font": "Liberation Sans", "fontSize": 25, "fontWeight": "bold", "anchor": "start", "frame": "group", "color": "#111", "offset": 12},
"legend": {"labelFont": "Liberation Sans"}
}
}
